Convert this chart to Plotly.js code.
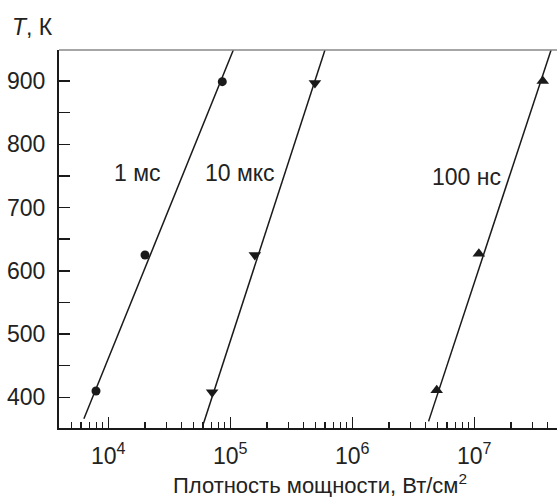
<!DOCTYPE html>
<html>
<head>
<meta charset="utf-8">
<script src="https://cdn.plot.ly/plotly-3.0.1.min.js"></script>
<style>html,body{margin:0;padding:0;background:#fff;}#chart{width:557px;height:497px;}</style>
</head>
<body>
<div id="chart"></div>
<script>
// Measured points
const x1ms = [7930, 20000, 86000];
const t1ms = [410, 625, 899];
const x10us = [71000, 159000, 494000];
const t10us = [408, 625, 897];
const x100ns = [4920000, 10900000, 36400000];
const t100ns = [411, 627, 900];

// Fitted lines (end points)
const fit1msX = [6310, 105900];
const fit1msT = [366, 949];
const fit10usX = [60400, 597000];
const fit10usT = [359, 949];
const fit100nsX = [4220000, 42600000];
const fit100nsT = [362, 949];

// Labels
const seriesLabels = ["1 мс", "10 мкс", "100 нс"];
const labelX = [17500, 120000, 8670000];
const labelT = [755, 755, 749];

const xTickVals = [1e4, 1e5, 1e6, 1e7];
const xTickText = ["10<sup>4</sup>", "10<sup>5</sup>", "10<sup>6</sup>", "10<sup>7</sup>"];
const yTickVals = [400, 500, 600, 700, 800, 900];

const minorX = [];
for (let d = 3; d <= 7; d++) for (let m = 2; m <= 9; m++) minorX.push(m * Math.pow(10, d));

const ink = '#1a1a1a';
const lineTrace = (x, y) => ({x, y, mode: 'lines', line: {color: ink, width: 1.5}, hoverinfo: 'skip', showlegend: false});
const ptTrace = (x, y, sym, sz) => ({x, y, mode: 'markers', marker: {color: ink, symbol: sym, size: sz}, showlegend: false});

const data = [
  lineTrace(fit1msX, fit1msT),
  lineTrace(fit10usX, fit10usT),
  lineTrace(fit100nsX, fit100nsT),
  ptTrace(x1ms, t1ms, 'circle', 9),
  ptTrace(x10us, t10us, 'triangle-down', 11),
  ptTrace(x100ns, t100ns, 'triangle-up', 11)
];

const font = {family: '"Liberation Sans", Arial, sans-serif', size: 23, color: '#222'};
const titleFont = {family: '"Liberation Sans", Arial, sans-serif', size: 22, color: '#222'};

const annotations = seriesLabels.map((s, i) => ({
  x: Math.log10(labelX[i]), y: labelT[i], xref: 'x', yref: 'y', text: s,
  showarrow: false, font: font, xanchor: 'center', yanchor: 'middle'
}));
annotations.push({xref: 'paper', yref: 'paper', x: -0.054, y: 1.061, text: '<i>T</i>, К',
  showarrow: false, font: font, xanchor: 'center', yanchor: 'middle'});
annotations.push({xref: 'paper', yref: 'paper', x: 0.524, y: -0.148, text: 'Плотность мощности, Вт/см<sup>2</sup>',
  showarrow: false, font: titleFont, xanchor: 'center', yanchor: 'middle'});

const layout = {
  width: 557, height: 497,
  margin: {l: 59, r: 0, t: 50, b: 69, pad: 0},
  paper_bgcolor: '#fff', plot_bgcolor: '#fff',
  font: font,
  showlegend: false,
  xaxis: {
    type: 'log', range: [3.596, 7.678],
    tickmode: 'array', tickvals: xTickVals, ticktext: xTickText,
    ticks: 'inside', ticklen: 11, tickwidth: 1.5, tickcolor: ink,
    showline: true, linecolor: ink, linewidth: 2,
    showgrid: false, zeroline: false,
    ticklabelstandoff: 6,
    minor: {tickmode: 'array', tickvals: minorX, ticks: 'inside', ticklen: 6, tickwidth: 1.5, tickcolor: ink, showgrid: false},
    tickfont: font
  },
  yaxis: {
    range: [351.5, 949],
    tickmode: 'array', tickvals: yTickVals,
    ticks: 'inside', ticklen: 11, tickwidth: 1.5, tickcolor: ink,
    showline: true, linecolor: ink, linewidth: 2,
    showgrid: false, zeroline: false,
    ticklabelstandoff: 7,
    minor: {dtick: 50, ticks: 'inside', ticklen: 11, tickwidth: 1.5, tickcolor: ink, showgrid: false},
    tickfont: font
  },
  shapes: [{type: 'line', xref: 'paper', yref: 'paper', x0: 0, x1: 1, y0: 1, y1: 1, line: {color: '#888', width: 1.5}}],
  annotations: annotations
};

Plotly.newPlot('chart', data, layout, {staticPlot: true, displayModeBar: false});
</script>
</body>
</html>
